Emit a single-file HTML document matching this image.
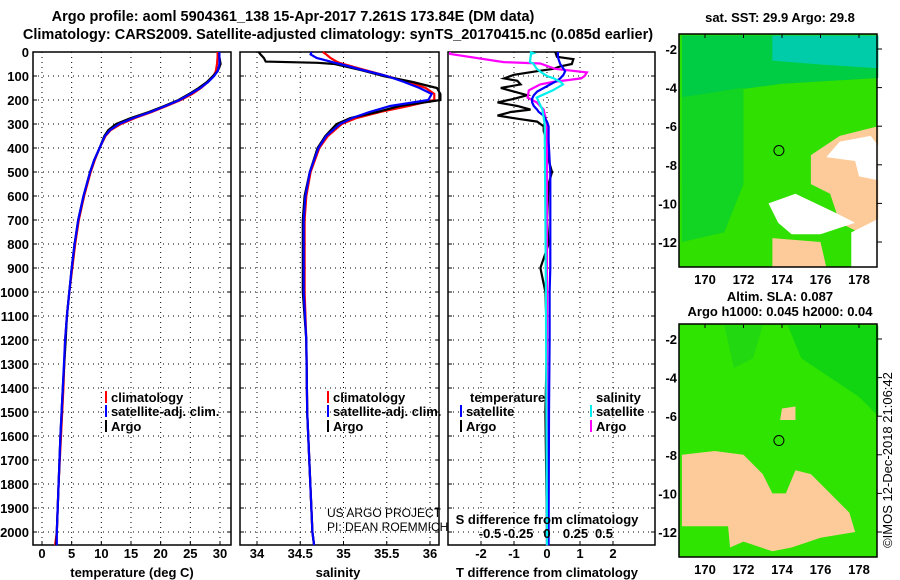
<!DOCTYPE html>
<html><head><meta charset="utf-8"><style>
body{margin:0;background:#fff;width:900px;height:580px;overflow:hidden}
svg{display:block;font-family:"Liberation Sans",Arial,sans-serif}
.b{font-weight:bold;font-size:13px}
</style></head><body>
<svg id="c" width="900" height="580">
<text x="293" y="21" text-anchor="middle" class="b" style="font-size:14.5px">Argo profile: aoml 5904361_138 15-Apr-2017 7.261S 173.84E (DM data)</text>
<text x="338" y="39" text-anchor="middle" class="b" style="font-size:14.5px">Climatology: CARS2009. Satellite-adjusted climatology: synTS_20170415.nc (0.085d earlier)</text>
</svg>
<script>
// ---- data ----
const tDepth=[0,20,50,80,100,125,150,175,200,225,250,275,300,325,350,400,450,500,600,700,800,900,1000,1100,1200,1400,1600,1800,2000,2055];
const tempArgo=[29.9,29.9,30.1,29.6,28.8,27.8,26.4,24.8,23.0,20.6,18.0,15.0,12.5,11.2,10.5,9.7,8.8,8.1,7.0,6.1,5.5,5.0,4.6,4.2,4.0,3.5,3.1,2.8,2.5,2.4];
const tempClim=[29.6,29.6,29.5,29.3,28.9,28.0,26.8,25.3,23.4,21.0,18.5,15.7,13.3,11.6,10.7,9.7,8.9,8.2,7.1,6.2,5.6,5.1,4.6,4.2,3.9,3.6,3.2,2.8,2.5,2.2];
const tempSat=[29.9,29.9,29.9,29.6,29.0,28.0,26.7,25.0,23.2,20.8,18.3,15.4,13.0,11.5,10.6,9.7,8.8,8.1,7.0,6.1,5.5,5.0,4.6,4.2,3.9,3.5,3.1,2.8,2.5,2.5];
const sDepth=[0,10,25,40,45,50,75,100,125,150,175,200,225,250,275,300,350,400,500,600,700,1000,1200,1500,2000,2055];
const salArgo=[34.02,34.04,34.08,34.10,34.7,34.9,35.2,35.46,35.8,36.08,36.12,36.12,35.65,35.39,35.08,34.92,34.79,34.70,34.61,34.55,34.53,34.53,34.57,34.58,34.64,34.66];
const salClim=[34.76,34.80,34.85,34.92,34.95,35.0,35.25,35.5,35.75,35.95,36.05,36.05,35.75,35.42,35.15,34.98,34.82,34.72,34.62,34.57,34.55,34.55,34.57,34.58,34.64,34.66];
const salSat=[34.63,34.62,34.69,34.85,34.9,34.96,35.22,35.5,35.7,35.88,36.02,35.98,35.54,35.3,35.1,34.96,34.80,34.71,34.61,34.56,34.54,34.54,34.57,34.58,34.64,34.66];
const dDepth=[0,20,30,50,60,70,80,95,110,120,135,150,165,180,195,210,225,240,250,265,280,290,310,330,370,450,500,550,700,800,900,1000,1200,1500,2000,2055];
const tDiffArgo=[0.25,0.3,0.8,0.75,0.4,0.2,-0.3,-1.0,-1.3,-0.9,-0.8,-1.4,-1.0,-0.6,-1.0,-1.5,-0.9,-0.5,-1.1,-1.5,-0.8,-0.3,-0.1,-0.1,0.0,0.05,0.15,0.05,0.0,0.05,-0.2,-0.05,0.0,-0.05,0.0,0.0];
const tDiffSat=[0.33,0.33,0.35,0.4,0.45,0.5,0.55,0.5,0.4,0.3,0.1,-0.1,-0.3,-0.4,-0.45,-0.45,-0.4,-0.3,-0.25,-0.1,-0.05,0.0,0.05,0.05,0.05,0.08,0.1,0.1,0.1,0.1,0.1,0.08,0.08,0.06,0.05,0.05];
const sdDepth=[0,5,8,42,48,70,85,100,110,125,135,160,190,210,240,300,1000,2055];
const sDiffArgo=[-0.85,-0.85,-0.85,-0.38,-0.06,0.07,0.35,0.33,0.3,0.05,-0.06,-0.16,-0.17,-0.09,-0.03,0.0,0.0,0.0];
const sDiffSat=[-0.15,-0.12,-0.14,-0.15,-0.12,-0.09,-0.05,0.0,0.06,0.12,0.14,0.05,-0.09,-0.07,-0.04,-0.02,-0.01,0.0];
const depthTicks=[0,100,200,300,400,500,600,700,800,900,1000,1100,1200,1300,1400,1500,1600,1700,1800,1900,2000];
const tempTicks=[0,5,10,15,20,25,30];
const salTicks=[34,34.5,35,35.5,36];
const tdTicks=[-2,-1,0,1,2];
const sdTicks=[-0.5,-0.25,0,0.25,0.5];
const lonTicks=[170,172,174,176,178];
const latTicks=[-2,-4,-6,-8,-10,-12];

const svg=document.getElementById('c');const NS='http://www.w3.org/2000/svg';
function mk(t,a,p){const e=document.createElementNS(NS,t);for(const k in a)e.setAttribute(k,a[k]);(p||svg).appendChild(e);return e;}
const Y=d=>52+d*0.24;const TOP=52,BOT=545;
function panel(x0,x1,name){
  const g=mk('g',{});
  mk('rect',{x:x0,y:TOP,width:x1-x0,height:BOT-TOP,fill:'none',stroke:'#000','stroke-width':1.5},g);return g;}
function hgrid(g,x0,x1){depthTicks.forEach(d=>{mk('line',{x1:x0,x2:x1,y1:Y(d),y2:Y(d),stroke:'#000','stroke-dasharray':'1,4'},g);mk('line',{x1:x0,x2:x0+4,y1:Y(d),y2:Y(d),stroke:'#000'},g);mk('line',{x1:x1-4,x2:x1,y1:Y(d),y2:Y(d),stroke:'#000'},g);});}
function vgrid(g,ticks,X,y,labels){ticks.forEach(v=>{const x=X(v);mk('line',{x1:x,x2:x,y1:TOP,y2:BOT,stroke:'#000','stroke-dasharray':'1,4'},g);mk('line',{x1:x,x2:x,y1:BOT-4,y2:BOT,stroke:'#000'},g);
 if(labels){const t=mk('text',{x:x,y:y,'text-anchor':'middle',class:'b'},g);t.textContent=String(v);}});}
function line(g,ds,vs,X,col,name,w){const p=ds.map((d,i)=>X(vs[i]).toFixed(1)+','+Y(d).toFixed(1)).join(' ');const e=mk('polyline',{points:p,fill:'none',stroke:col,'stroke-width':w||2.2},g);}
function txt(g,x,y,s,name,extra){const t=mk('text',Object.assign({x:x,y:y,class:'b'},extra||{}),g);t.textContent=s;return t;}
function leg(g,x,y,col,s,name){mk('rect',{x:x,y:y-11,width:2,height:12,fill:col},g);txt(g,x+6,y,s,name);}

// panel 1 temperature
const XT=v=>42+v*5.933;
let g=panel(33,231,'temperature-panel');hgrid(g,33,231);vgrid(g,tempTicks,XT,558,true);
depthTicks.forEach(d=>{txt(g,29,Y(d)+5,String(d),'depth-tick',{'text-anchor':'end'});});
line(g,tDepth,tempClim,XT,'#f00','temp-climatology-line');line(g,tDepth,tempArgo,XT,'#000','temp-argo-line');line(g,tDepth,tempSat,XT,'#00f','temp-satellite-line');
txt(g,132,577,'temperature (deg C)','temperature-axis-title',{'text-anchor':'middle'});
leg(g,105,402,'#f00','climatology','legend-climatology');leg(g,105,416,'#00f','satellite-adj. clim.','legend-satellite');leg(g,105,431,'#000','Argo','legend-argo');
// panel 2 salinity
const XS=v=>257+(v-34)*86.5;
g=panel(240,439,'salinity-panel');hgrid(g,240,439);vgrid(g,salTicks,XS,558,true);
line(g,sDepth,salClim,XS,'#f00','sal-climatology-line');line(g,sDepth,salArgo,XS,'#000','sal-argo-line');line(g,sDepth,salSat,XS,'#00f','sal-satellite-line');
txt(g,338,577,'salinity','salinity-axis-title',{'text-anchor':'middle'});
leg(g,327,402,'#f00','climatology','legend-climatology-2');leg(g,327,416,'#00f','satellite-adj. clim.','legend-satellite-2');leg(g,327,431,'#000','Argo','legend-argo-2');
txt(g,327,517,'US ARGO PROJECT','credit-project',{style:'font-weight:normal;font-size:12px'});
txt(g,327,531,'PI: DEAN ROEMMICH','credit-pi',{style:'font-weight:normal;font-size:12px'});
// panel 3 differences
const XD=v=>547+v*33;const XSD=v=>547+v*114;
g=panel(448,655,'difference-panel');hgrid(g,448,655);vgrid(g,tdTicks,XD,558,true);
line(g,dDepth,tDiffArgo,XD,'#000','tdiff-argo-line');line(g,sdDepth,sDiffArgo,XSD,'#f0f','sdiff-argo-line');line(g,dDepth,tDiffSat,XD,'#00f','tdiff-satellite-line');line(g,sdDepth,sDiffSat,XSD,'#0ee','sdiff-satellite-line');
sdTicks.forEach(v=>{txt(g,XSD(v),538,String(v),'s-diff-tick',{'text-anchor':'middle'});});
txt(g,547,524,'S difference from climatology','s-diff-axis-title',{'text-anchor':'middle'});
txt(g,547,577,'T difference from climatology','t-diff-axis-title',{'text-anchor':'middle'});
txt(g,470,402,'temperature','legend-temperature-head');txt(g,596,402,'salinity','legend-salinity-head');
leg(g,460,416,'#00f','satellite','legend-t-satellite');leg(g,460,431,'#000','Argo','legend-t-argo');
leg(g,590,416,'#0ee','satellite','legend-s-satellite');leg(g,590,431,'#f0f','Argo','legend-s-argo');

// maps
const LX=v=>705+(v-170)*19.25;const LY=(o,v)=>o+49+(-2-v)*19.3;
function map(oy,name,title1,title2,base,patches){
 const g=mk('g',{});
 mk('rect',{x:679,y:oy+34,width:198,height:233,fill:base},g);
 patches.forEach(p=>mk('polygon',{points:p[0].map(q=>LX(q[0])+','+LY(oy,q[1])).join(' '),fill:p[1]},g));
 mk('rect',{x:679,y:oy+34,width:198,height:233,fill:'none',stroke:'#000','stroke-width':1.5},g);
 mk('circle',{cx:LX(173.84),cy:LY(oy,-7.261),r:5,fill:'none',stroke:'#000'},g);
 lonTicks.forEach(v=>{mk('line',{x1:LX(v),x2:LX(v),y1:oy+34,y2:oy+38,stroke:'#000'},g);txt(g,LX(v),oy+284,String(v),'lon-tick',{'text-anchor':'middle'});});
 latTicks.forEach(v=>{mk('line',{x1:877,x2:882,y1:LY(oy,v),y2:LY(oy,v),stroke:'#000'},g);txt(g,677,LY(oy,v)+5,String(v),'lat-tick',{'text-anchor':'end'});});
 if(title2){txt(g,780,oy+11,title1,'map-title',{'text-anchor':'middle'});txt(g,780,oy+26,title2,'map-subtitle',{'text-anchor':'middle'});}
 else txt(g,780,oy+22,title1,'map-title',{'text-anchor':'middle'});
}
map(0,'sst-map','sat. SST: 29.9 Argo: 29.8',null,'#2fe000',[
 [[[168.8,-1.3],[179,-1.3],[179,-3.5],[174,-3.8],[168.8,-4.5]],'#00cc44'],
 [[[168.8,-4.5],[172,-4],[172,-9],[171,-11.5],[168.8,-12]],'#11d522'],
 [[[173.5,-1.3],[179,-1.3],[179,-3],[176,-2.8],[173.5,-2.6]],'#00ccaa'],
 [[[175.5,-7.5],[177,-6.5],[179,-6],[179,-12],[177,-11],[176.5,-9.5],[175.5,-9]],'#fccb99'],
 [[[177,-6.8],[178.6,-6.5],[179,-7],[179,-8.8],[178,-8.6],[177.8,-7.8],[176.3,-7.6]],'#fff'],
 [[[173.3,-10],[174.7,-9.5],[176.8,-10.5],[177.8,-11],[176,-11.6],[174.5,-11.6],[173.8,-11]],'#fff'],
 [[[177.6,-11.5],[179,-10.8],[179,-13.3],[177.6,-13.3]],'#fff'],
 [[[173.5,-11.8],[176,-12],[176.3,-13.3],[173.5,-13.3]],'#fccb99']]);
map(290,'sla-map','Altim. SLA: 0.087','Argo h1000: 0.045 h2000: 0.04','#2fe400',[
 [[[174.3,-1.3],[179,-1.3],[179,-6],[178,-5],[176.5,-4],[175,-3]],'#11d511'],
 [[[171,-1.3],[173,-1.3],[172.5,-3],[171.5,-3.5]],'#22d811'],
 [[[168.8,-8],[170.5,-7.8],[172,-8],[173,-9],[173.5,-10],[174.2,-10],[174.7,-8.8],[175.5,-9],[176.5,-10],[177.5,-11],[177.8,-12],[176,-12.3],[174.5,-12.8],[173.5,-13],[172,-12.5],[171.3,-12.8],[171.2,-11.7],[168.8,-11.7]],'#fccb99'],
 [[[174,-5.6],[174.7,-5.5],[174.7,-6.2],[173.9,-6.2]],'#fccb99']]);
txt(svg,892,460,'©IMOS 12-Dec-2018 21:06:42','timestamp',{'text-anchor':'middle',transform:'rotate(-90 892 460)',style:'font-weight:normal;font-size:13px'});
</script>
</body></html>
